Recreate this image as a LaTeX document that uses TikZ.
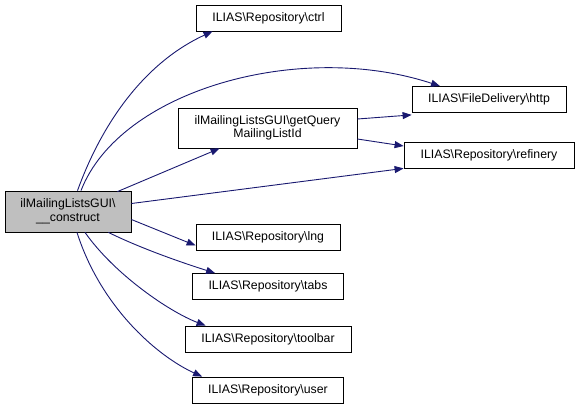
\documentclass[tikz,border=0pt]{standalone}
\usepackage{fontspec}
\setmainfont{Liberation Sans}
\usetikzlibrary{arrows.meta}
\definecolor{edgeblue}{HTML}{191970}
\definecolor{mainfill}{HTML}{BFBFBF}
\tikzset{
  box/.style={draw=black, line width=0.8pt, fill=white, inner sep=0pt, minimum height=26pt, font=\fontsize{12.3}{13.5}\selectfont, align=center},
  edge/.style={draw=edgeblue, line width=0.9pt, -{Triangle[length=9pt,width=7pt]}},
}
\begin{document}
\begin{tikzpicture}[x=1pt,y=-1pt]
\useasboundingbox (0,0) rectangle (580,408);
\node[box, fill=mainfill, minimum width=126pt, minimum height=41pt] (main) at (68,211.5) {ilMailingListsGUI\textbackslash\\\_\_construct};
\node[box, minimum width=145pt] (ctrl) at (268.5,18) {ILIAS\textbackslash Repository\textbackslash ctrl};
\node[box, minimum width=179pt, minimum height=40pt] (gq) at (267.5,128) {ilMailingListsGUI\textbackslash getQuery\\MailingListId};
\node[box, minimum width=154pt] (http) at (489,99.5) {ILIAS\textbackslash FileDelivery\textbackslash http};
\node[box, minimum width=170pt] (ref) at (489,155) {ILIAS\textbackslash Repository\textbackslash refinery};
\node[box, minimum width=144pt] (lng) at (268,237.5) {ILIAS\textbackslash Repository\textbackslash lng};
\node[box, minimum width=151pt] (tabs) at (268,286.5) {ILIAS\textbackslash Repository\textbackslash tabs};
\node[box, minimum width=166pt] (toolbar) at (268,339) {ILIAS\textbackslash Repository\textbackslash toolbar};
\node[box, minimum width=151pt] (user) at (268,390) {ILIAS\textbackslash Repository\textbackslash user};

\draw[edge] ([xshift=9.5pt]main.north) .. controls (105,115) and (150,60) .. ([xshift=-56pt]ctrl.south);
\draw[edge] ([xshift=13pt]main.north) .. controls (120,90) and (300,40) .. ([xshift=-49pt]http.north);
\draw[edge] ([yshift=-1pt, xshift=-14pt]main.north east) -- ([xshift=42pt]gq.south west);
\draw[edge] ([yshift=8pt]main.east) -- ([yshift=0pt]ref.south west);
\draw[edge] ([yshift=-8pt]main.east) -- ([yshift=-8pt]lng.west);
\draw[edge] ([xshift=-23pt]main.south east) .. controls (140,248) and (180,262) .. ([xshift=23pt]tabs.north west);
\draw[edge] ([xshift=17pt]main.south) .. controls (115,275) and (170,312) .. ([xshift=21pt]toolbar.north west);
\draw[edge] ([xshift=9pt]main.south) .. controls (100,305) and (155,355) .. ([xshift=10pt]user.north west);
\draw[edge] ([yshift=9pt]gq.east) -- ([yshift=-2pt]http.south west);
\draw[edge] ([yshift=-11pt]gq.east) -- ([yshift=9pt]ref.west);
\end{tikzpicture}
\end{document}
